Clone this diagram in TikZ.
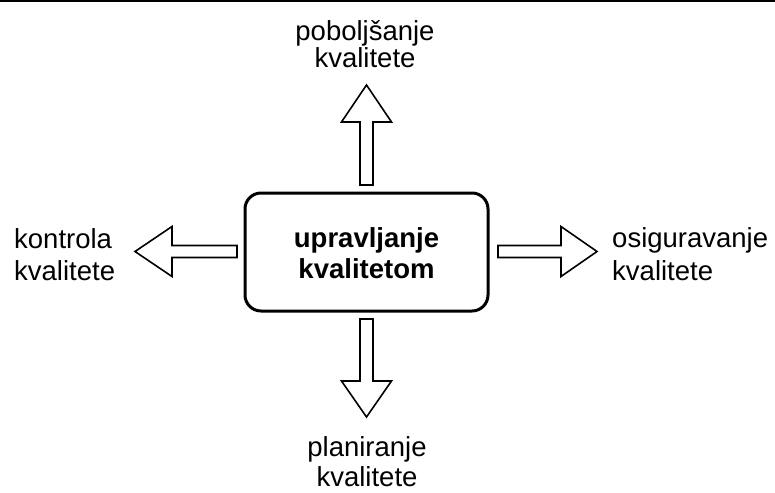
\documentclass[tikz,border=0pt]{standalone}
\usepackage{fontspec}
\setmainfont{Liberation Sans}
\begin{document}
\begin{tikzpicture}[x=1pt,y=-1pt,
  lbl/.style={inner sep=0pt,font=\fontsize{27.5}{31}\selectfont},
  blbl/.style={inner sep=0pt,font=\fontsize{27.5}{31}\selectfont\bfseries},
  fatarrow/.style={draw=black,fill=white,line width=1.6pt,line join=miter},
  mainbox/.style={draw=black,fill=white,line width=3pt,rounded corners=16pt}]
\useasboundingbox (0,0) rectangle (775,492);
\draw[line width=1.6pt] (0,0.8) -- (775,0.8);

% central box
\draw[mainbox] (245,193) rectangle (488,311);
\node[blbl,anchor=base] (c1) at (366.5,247) {upravljanje};
\node[blbl,anchor=base] (c2) at (366.5,278) {kvalitetom};

% up arrow
\draw[fatarrow] (360,185) -- (360,122) -- (341.5,122) -- (366.5,85) -- (391.5,122) -- (373,122) -- (373,185) -- cycle;
% down arrow
\draw[fatarrow] (360,319) -- (360,381) -- (341.5,381) -- (366.5,417) -- (391.5,381) -- (373,381) -- (373,319) -- cycle;
% left arrow
\draw[fatarrow] (237,245.5) -- (172,245.5) -- (172,226.5) -- (135,251.5) -- (172,276.5) -- (172,257.5) -- (237,257.5) -- cycle;
% right arrow
\draw[fatarrow] (498,245.5) -- (561,245.5) -- (561,226.5) -- (597,251.5) -- (561,276.5) -- (561,257.5) -- (498,257.5) -- cycle;

% labels
\node[lbl,anchor=base] (t1) at (365,41) {poboljšanje};
\node[lbl,anchor=base] (t2) at (365,68) {kvalitete};
\node[lbl,anchor=base west] (l1) at (14,248) {kontrola};
\node[lbl,anchor=base west] (l2) at (14,280) {kvalitete};
\node[lbl,anchor=base west] (r1) at (612,247) {osiguravanje};
\node[lbl,anchor=base west] (r2) at (612,280) {kvalitete};
\node[lbl,anchor=base] (b1) at (367,456) {planiranje};
\node[lbl,anchor=base] (b2) at (367,486) {kvalitete};
\end{tikzpicture}
\end{document}
